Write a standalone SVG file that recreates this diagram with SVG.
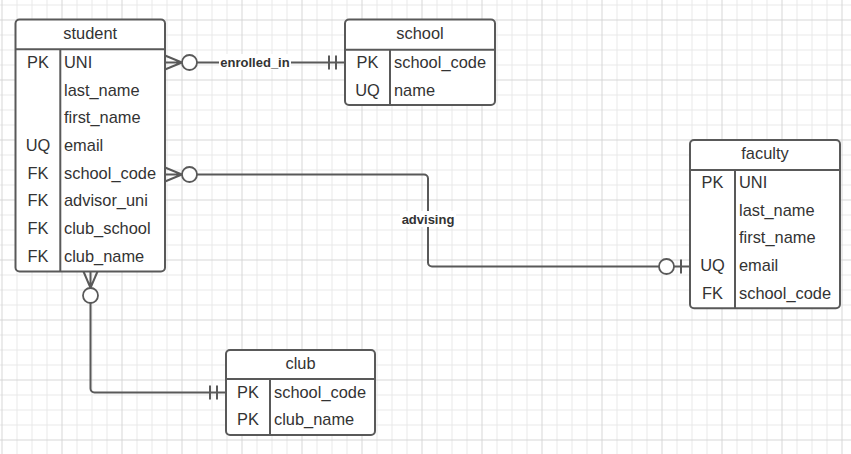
<svg xmlns="http://www.w3.org/2000/svg" width="851" height="454" viewBox="0 0 851 454">
<style>
.box{fill:#fff;stroke:#595959;stroke-width:2}
.div{stroke:#595959;stroke-width:2;fill:none}
.t{font-family:"Liberation Sans",Arial,sans-serif;font-size:16.4px;fill:#333}
.c{text-anchor:middle}
.conn{stroke:#595959;stroke-width:2;fill:none}
.circ{fill:#fff;stroke:#595959;stroke-width:1.8}
.lbl{font-family:"Liberation Sans",Arial,sans-serif;font-size:13px;font-weight:bold;fill:#333;text-anchor:middle}
</style>
<defs>
<pattern id="grid" patternUnits="userSpaceOnUse" x="1.5" y="19.5" width="60" height="60">
<path d="M15.5 0V60M30.5 0V60M45.5 0V60M0 15.5H60M0 30.5H60M0 45.5H60" stroke="#e8e8e8" stroke-width="1" fill="none"/>
<path d="M0.5 0V60M0 0.5H60" stroke="#d6d6d6" stroke-width="1" fill="none"/>
</pattern>
</defs>
<rect width="851" height="454" fill="#fff"/>
<rect width="851" height="454" fill="url(#grid)"/>

<g id="connectors">
<!-- enrolled_in -->
<g id="enrolled_in">
<path class="conn" d="M165 55.5L182 62.5L165 69.5M165 62.5H182"/>
<path class="conn" d="M197 62.5H345"/>
<circle class="circ" cx="189.5" cy="62.5" r="7.5"/>
<path class="conn" d="M329 55.5V69.5M336 55.5V69.5"/>
<rect x="219" y="54" width="72" height="16" fill="#fff"/>
<text class="lbl" x="255" y="67">enrolled_in</text>
</g>
<!-- advising -->
<g id="advising">
<path class="conn" d="M165 167.5L182 174.5L165 181.5M165 174.5H182"/>
<path class="conn" d="M197 174.5H424A4 4 0 0 1 428 178.5V262.5A4 4 0 0 0 432 266.5H690"/>
<circle class="circ" cx="189.5" cy="174.5" r="7.5"/>
<circle class="circ" cx="666.5" cy="266.5" r="7.5"/>
<path class="conn" d="M681 259.5V273.5"/>
<rect x="400" y="211" width="56" height="16" fill="#fff"/>
<text class="lbl" x="428" y="224">advising</text>
</g>
<!-- club -->
<g id="student_club">
<path class="conn" d="M83.5 271.5L90.5 288L97.5 271.5M90.5 271.5V288"/>
<path class="conn" d="M90.5 303V388.5A4 4 0 0 0 94.5 392.5H226"/>
<circle class="circ" cx="90.5" cy="295.5" r="7.5"/>
<path class="conn" d="M210 385.5V399.5M217 385.5V399.5"/>
</g>
</g>

<g id="student">
<rect class="box" x="15.5" y="19.5" width="149.5" height="252" rx="4"/>
<path class="div" d="M15.5 49.3H165M60.3 49.3V271.5"/>
<text class="t c" x="90.2" y="39">student</text>
<text class="t c" x="38" y="68">PK</text><text class="t" x="64" y="68">UNI</text>
<text class="t" x="64" y="95.7">last_name</text>
<text class="t" x="64" y="123.3">first_name</text>
<text class="t c" x="38" y="151">UQ</text><text class="t" x="64" y="151">email</text>
<text class="t c" x="38" y="178.7">FK</text><text class="t" x="64" y="178.7">school_code</text>
<text class="t c" x="38" y="206.3">FK</text><text class="t" x="64" y="206.3">advisor_uni</text>
<text class="t c" x="38" y="234">FK</text><text class="t" x="64" y="234">club_school</text>
<text class="t c" x="38" y="261.7">FK</text><text class="t" x="64" y="261.7">club_name</text>
</g>

<g id="school">
<rect class="box" x="345" y="19.5" width="150" height="85.5" rx="4"/>
<path class="div" d="M345 49.7H495M390 49.7V105"/>
<text class="t c" x="420" y="39">school</text>
<text class="t c" x="367.5" y="68.3">PK</text><text class="t" x="394" y="68.3">school_code</text>
<text class="t c" x="367.5" y="96">UQ</text><text class="t" x="394" y="96">name</text>
</g>

<g id="faculty">
<rect class="box" x="690" y="140" width="150" height="168.3" rx="4"/>
<path class="div" d="M690 170H840M735 170V308.3"/>
<text class="t c" x="765" y="159.3">faculty</text>
<text class="t c" x="712.5" y="188.3">PK</text><text class="t" x="739" y="188.3">UNI</text>
<text class="t" x="739" y="216">last_name</text>
<text class="t" x="739" y="242.7">first_name</text>
<text class="t c" x="712.5" y="271">UQ</text><text class="t" x="739" y="271">email</text>
<text class="t c" x="712.5" y="298.7">FK</text><text class="t" x="739" y="298.7">school_code</text>
</g>

<g id="club">
<rect class="box" x="226" y="350" width="149" height="85" rx="4"/>
<path class="div" d="M226 379H375M270 379V435"/>
<text class="t c" x="300.5" y="369.3">club</text>
<text class="t c" x="248" y="397.7">PK</text><text class="t" x="274" y="397.7">school_code</text>
<text class="t c" x="248" y="425.3">PK</text><text class="t" x="274" y="425.3">club_name</text>
</g>
</svg>
